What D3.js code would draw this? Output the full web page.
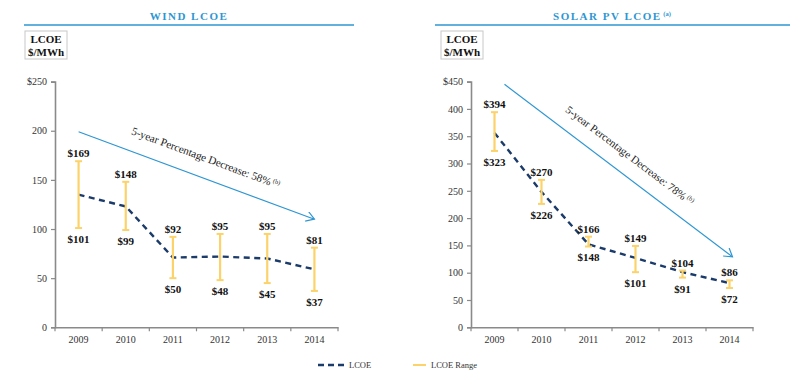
<!DOCTYPE html>
<html>
<head>
<meta charset="utf-8">
<script src="https://cdn.jsdelivr.net/npm/d3@7"></script>
<style>
  body { margin: 0; background: #fff; }
  svg { font-family: "Liberation Serif", "Times New Roman", serif; }
</style>
</head>
<body>
<script>
const width = 800, height = 377

const years = ['2009', '2010', '2011', '2012', '2013', '2014']

// wind, $/MWh
const windMid = [135, 123, 71, 72, 70, 59]
const windLow = [101, 99, 50, 48, 45, 37]
const windHigh = [169, 148, 92, 95, 95, 81]
const windTicks = [0, 50, 100, 150, 200, 250]
const windTrend = [199, 110]

// solar pv, $/MWh
const solarMid = [356, 248, 152, 127, 101, 81]
const solarLow = [323, 226, 148, 101, 91, 72]
const solarHigh = [394, 270, 166, 149, 104, 86]
const solarTicks = [0, 50, 100, 150, 200, 250, 300, 350, 400, 450]
const solarTrend = [445, 129]

const blue = '#2e96d3', navy = '#1b3b6a', gold = '#fcd36a', axisGrey = '#8a8a8a'

let svg = d3.select('body').append('svg')
    .attr('width', width)
    .attr('height', height)

let defs = svg.append('defs')
defs.append('marker')
    .attr('id', 'arrow')
    .attr('refX', 9)
    .attr('refY', 5)
    .attr('markerWidth', 12)
    .attr('markerHeight', 12)
    .attr('markerUnits', 'userSpaceOnUse')
    .attr('orient', 'auto')
  .append('path')
    .attr('d', 'M 1 0 L 9 5 L 1 10')
    .style('stroke', blue)
    .style('stroke-width', 1.2)
    .style('fill', 'none')

function drawPanel(cfg) {
  let g = svg.append('g')

  // title + rule
  let title = g.append('text')
      .attr('x', cfg.titleX).attr('y', 20)
      .attr('text-anchor', 'middle')
      .style('font-size', '11px').style('font-weight', 'bold')
      .style('letter-spacing', '1.5px').style('fill', blue)
      .text(cfg.title)
  if (cfg.titleSup) {
    title.append('tspan').attr('dy', -4).style('font-size', '6.5px')
        .style('letter-spacing', '0px').text(' ' + cfg.titleSup)
  }
  g.append('line')
      .attr('x1', cfg.ruleX[0]).attr('x2', cfg.ruleX[1])
      .attr('y1', 25).attr('y2', 25)
      .style('stroke', blue).style('stroke-width', 1.5)

  // unit box
  g.append('rect')
      .attr('x', cfg.boxX).attr('y', 31).attr('width', 42).attr('height', 28)
      .style('fill', '#fff').style('stroke', '#c8c8c8').style('stroke-width', 1)
  ;['LCOE', '$/MWh'].forEach((t, i) => {
    g.append('text')
        .attr('x', cfg.boxX + 21).attr('y', 43 + i * 12.5)
        .attr('text-anchor', 'middle')
        .style('font-size', '11px').style('font-weight', 'bold').style('fill', '#111')
        .text(t)
  })

  let x = d3.scaleBand().domain(years).range([cfg.x0, cfg.x1])
  let y = d3.scaleLinear().domain([0, cfg.ticks[cfg.ticks.length - 1]]).range([327.3, 81.6])
  let cx = d => x(d) + x.bandwidth() / 2

  // axes
  let yAxis = g.append('g')
      .attr('transform', `translate(${cfg.x0},0)`)
      .call(d3.axisLeft(y).tickValues(cfg.ticks).tickSize(4).tickPadding(4)
        .tickFormat(d => d === cfg.ticks[cfg.ticks.length - 1] ? '$' + d : d))
  let xAxis = g.append('g')
      .attr('transform', 'translate(0,327.3)')
      .call(d3.axisBottom(x).tickSize(0).tickPadding(9))
  ;[yAxis, xAxis].forEach(a => {
    a.select('.domain').style('stroke', axisGrey).style('stroke-width', 1.6)
    a.selectAll('.tick line').style('stroke', axisGrey).style('stroke-width', 1.2)
    a.selectAll('.tick text').style('font-size', '10px').style('fill', '#333')
      .style('font-family', '"Liberation Serif", serif')
  })
  xAxis.selectAll('.boundary')
      .data(d3.range(years.length + 1))
      .join('line')
      .attr('x1', i => cfg.x0 + i * x.step()).attr('x2', i => cfg.x0 + i * x.step())
      .attr('y1', 0).attr('y2', 4)
      .style('stroke', axisGrey).style('stroke-width', 1.2)

  // trend arrow
  let tx0 = cx(years[0]) + cfg.trendShift[0], ty0 = y(cfg.trend[0])
  let tx1 = cx(years[years.length - 1]) + cfg.trendShift[1], ty1 = y(cfg.trend[1])
  g.append('line')
      .attr('x1', tx0).attr('y1', ty0).attr('x2', tx1).attr('y2', ty1)
      .style('stroke', blue).style('stroke-width', 1.2)
      .attr('marker-end', 'url(#arrow)')
  let ang = Math.atan2(ty1 - ty0, tx1 - tx0) * 180 / Math.PI
  let mx = (tx0 + tx1) / 2 + cfg.noteShift[0], my = (ty0 + ty1) / 2 + cfg.noteShift[1]
  let note = g.append('text')
      .attr('transform', `translate(${mx},${my}) rotate(${ang})`)
      .attr('text-anchor', 'middle')
      .style('font-size', '11px').style('fill', '#222')
      .text(cfg.note)
  note.append('tspan').attr('dy', -4).style('font-size', '6.5px').text(' (b)')

  // LCOE dashed line
  g.append('path')
      .datum(cfg.mid)
      .attr('d', d3.line().x((d, i) => cx(years[i])).y(d => y(d)))
      .style('fill', 'none').style('stroke', navy)
      .style('stroke-width', 2.4).style('stroke-dasharray', '6,4.5')

  // ranges
  let cap = 3.5
  let r = g.append('g').selectAll('g')
      .data(years)
      .join('g')
  r.append('line')
      .attr('x1', d => cx(d)).attr('x2', d => cx(d))
      .attr('y1', (d, i) => y(cfg.high[i])).attr('y2', (d, i) => y(cfg.low[i]))
      .style('stroke', gold).style('stroke-width', 2.2)
  ;['high', 'low'].forEach(k => {
    r.append('line')
        .attr('x1', d => cx(d) - cap).attr('x2', d => cx(d) + cap)
        .attr('y1', (d, i) => y(cfg[k][i])).attr('y2', (d, i) => y(cfg[k][i]))
        .style('stroke', gold).style('stroke-width', 2)
  })
  r.append('text')
      .attr('x', d => cx(d)).attr('y', (d, i) => y(cfg.high[i]) - 4)
      .attr('text-anchor', 'middle')
      .style('font-size', '11px').style('font-weight', 'bold').style('fill', '#111')
      .text((d, i) => '$' + cfg.high[i])
  r.append('text')
      .attr('x', d => cx(d)).attr('y', (d, i) => y(cfg.low[i]) + 15)
      .attr('text-anchor', 'middle')
      .style('font-size', '11px').style('font-weight', 'bold').style('fill', '#111')
      .text((d, i) => '$' + cfg.low[i])
}

drawPanel({
  title: 'WIND LCOE', titleX: 189, ruleX: [24, 354], boxX: 25,
  x0: 55, x1: 338, ticks: windTicks,
  mid: windMid, low: windLow, high: windHigh,
  trend: windTrend, trendShift: [0, 0], noteShift: [8, -14],
  note: '5-year Percentage Decrease: 58%'
})

drawPanel({
  title: 'SOLAR PV LCOE', titleSup: '(a)', titleX: 612, ruleX: [435, 790], boxX: 441,
  x0: 471, x1: 753, ticks: solarTicks,
  mid: solarMid, low: solarLow, high: solarHigh,
  trend: solarTrend, trendShift: [10, 3], noteShift: [9, -12],
  note: '5-year Percentage Decrease: 78%'
})

// legend
let legend = svg.append('g')
legend.append('line')
    .attr('x1', 318).attr('x2', 344).attr('y1', 365).attr('y2', 365)
    .style('stroke', navy).style('stroke-width', 2.4).style('stroke-dasharray', '6,4')
legend.append('text')
    .attr('x', 349).attr('y', 368)
    .style('font-size', '8.5px').style('fill', '#333')
    .text('LCOE')
legend.append('line')
    .attr('x1', 413).attr('x2', 426).attr('y1', 365).attr('y2', 365)
    .style('stroke', gold).style('stroke-width', 2)
legend.append('text')
    .attr('x', 431).attr('y', 368)
    .style('font-size', '8.5px').style('fill', '#333')
    .text('LCOE Range')
</script>
</body>
</html>
